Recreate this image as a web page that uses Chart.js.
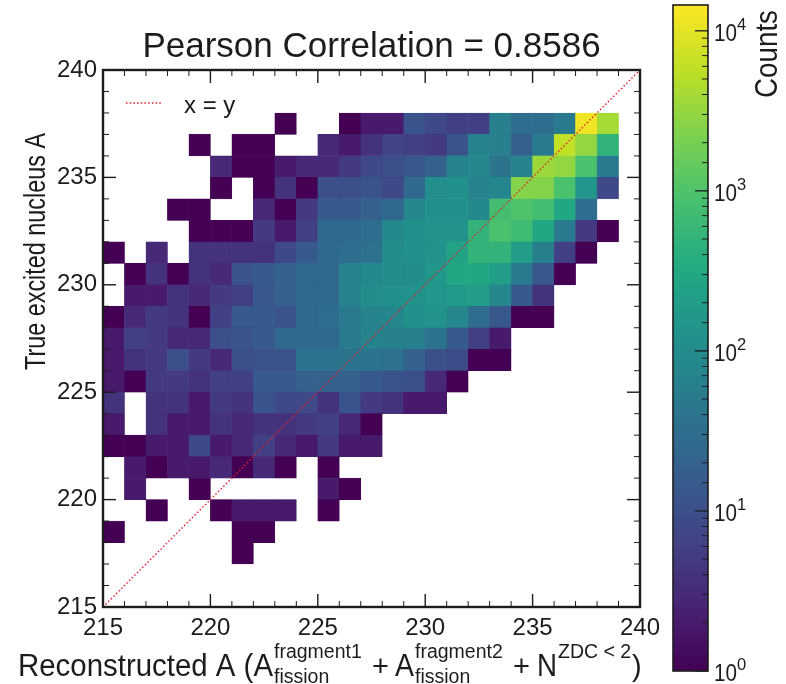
<!DOCTYPE html>
<html>
<head>
<meta charset="utf-8">
<title>Pearson Correlation</title>
<script src="https://cdn.jsdelivr.net/npm/chart.js@4"></script>
<style>
  html, body { margin: 0; padding: 0; background: #fff; }
  #wrap { position: relative; width: 786px; height: 684px; overflow: hidden; }
  #mainBox { position: absolute; left: 0; top: 0; width: 786px; height: 684px; }
  #barBox { position: absolute; left: 640px; top: 0; width: 146px; height: 684px; }
</style>
</head>
<body>
<div id="wrap">
  <div id="mainBox"><canvas id="heat"></canvas></div>
  <div id="barBox"><canvas id="cbar"></canvas></div>
</div>
<script>
// Data

const titleText = 'Pearson Correlation = 0.8586';
const yTitleText = 'True excited nucleus A';
const legendText = 'x = y';
const cbarTitle = 'Counts';

const axisMin = 215;
const axisMax = 240;
const countMax = 14500;
const diagonal = [215, 240];

// left edge of each column
const xBins = [215,216,217,218,219,220,221,222,223,224,225,226,227,228,229,230,231,232,233,234,235,236,237,238];

// counts, 0 = empty cell
const row237 = [0,0,0,0,0,0,0,0,1,0,0,1,2,2,12,8,6,6,60,30,30,50,12000,4000];
const row236 = [0,0,0,0,1,0,1,1,0,0,3,2,4,7,6,5,12,70,60,18,50,6000,3000,500];
const row235 = [0,0,0,0,0,3,1,1,2,3,3,5,8,10,14,20,70,80,40,70,3500,3000,900,50];
const row234 = [0,0,0,0,0,1,0,1,4,1,10,10,12,8,25,110,120,70,80,2500,2500,900,150,8];
const row233 = [0,0,0,1,1,0,0,3,1,5,15,15,20,25,80,120,120,90,800,1000,800,300,30,0];
const row232 = [0,0,0,0,1,1,1,5,2,6,25,25,30,90,120,130,130,500,900,700,300,50,5,1];
const row231 = [1,0,3,0,4,4,4,4,8,15,25,30,35,100,120,130,250,500,500,200,60,6,1,0];
const row230 = [0,1,4,1,4,3,12,15,20,25,25,70,90,100,100,150,300,300,200,50,14,1,0,0];
const row229 = [0,2,2,4,3,5,6,14,20,25,25,70,100,120,130,150,180,200,80,15,4,0,0,0];
const row228 = [1,3,5,4,1,6,15,15,12,25,30,50,70,80,120,130,80,30,14,1,1,0,0,0];
const row227 = [2,6,5,3,3,10,12,15,25,25,25,50,70,60,60,40,15,6,2,0,0,0,0,0];
const row226 = [2,4,5,10,5,3,10,12,12,40,40,40,40,35,20,10,9,1,1,0,0,0,0,0];
const row225 = [2,1,5,5,4,6,6,15,15,20,20,20,15,12,10,3,1,0,0,0,0,0,0,0];
const row224 = [4,0,4,4,2,5,4,12,8,8,4,12,5,4,2,2,0,0,0,0,0,0,0,0];
const row223 = [2,0,4,2,2,4,3,4,4,5,6,3,1,0,0,0,0,0,0,0,0,0,0,0];
const row222 = [1,1,2,2,8,2,3,6,3,2,5,2,2,0,0,0,0,0,0,0,0,0,0,0];
const row221 = [0,2,1,2,2,3,1,3,1,0,1,0,0,0,0,0,0,0,0,0,0,0,0,0];
const row220 = [0,2,0,0,1,0,0,0,0,0,2,1,0,0,0,0,0,0,0,0,0,0,0,0];
const row219 = [0,0,1,0,0,1,2,2,2,0,1,0,0,0,0,0,0,0,0,0,0,0,0,0];
const row218 = [1,0,0,0,0,0,1,1,0,0,0,0,0,0,0,0,0,0,0,0,0,0,0,0];
const row217 = [0,0,0,0,0,0,1,0,0,0,0,0,0,0,0,0,0,0,0,0,0,0,0,0];

const yBins = [237,236,235,234,233,232,231,230,229,228,227,226,225,224,223,222,221,220,219,218,217];
const rows = [row237,row236,row235,row234,row233,row232,row231,row230,row229,row228,row227,
              row226,row225,row224,row223,row222,row221,row220,row219,row218,row217];

const viridis = ['#440154','#482475','#414487','#355f8d','#2a788e','#21918c','#22a884','#44bf70','#7ad151','#bddf26','#fde725'];

// Helpers

const FONT = '"Liberation Sans", Arial, sans-serif';
const INK = '#1c1c1c';

function hexToRgb(h) {
  return [1, 3, 5].map(i => parseInt(h.slice(i, i + 2), 16));
}

function colorFor(count) {
  const t = Math.min(1, Math.log10(count) / Math.log10(countMax)) * (viridis.length - 1);
  const i = Math.min(viridis.length - 2, Math.floor(t));
  const a = hexToRgb(viridis[i]);
  const b = hexToRgb(viridis[i + 1]);
  const f = t - i;
  return `rgb(${a.map((v, k) => Math.round(v + (b[k] - v) * f)).join(',')})`;
}

// fit squeezes the glyphs to a width, the reference text is a bit condensed
function text(ctx, str, x, y, size, fit, align) {
  ctx.font = `${size}px ${FONT}`;
  ctx.fillStyle = INK;
  ctx.textAlign = align || 'left';
  ctx.textBaseline = 'alphabetic';
  if (fit) ctx.fillText(str, x, y, fit);
  else ctx.fillText(str, x, y);
}

// Heatmap cells

const cells = [];
const cellColors = [];
yBins.forEach((y, r) => {
  rows[r].forEach((count, c) => {
    if (count > 0) {
      cells.push({ x: xBins[c] + 0.5, y: [y, y + 1] });
      cellColors.push(colorFor(count));
    }
  });
});

// Plugins

const frameAndTicks = {
  id: 'frameAndTicks',
  afterDraw(chart) {
    const { ctx, chartArea: a, scales: { x, y } } = chart;
    ctx.save();
    ctx.strokeStyle = INK;
    const line = (x1, y1, x2, y2, w) => {
      ctx.lineWidth = w;
      ctx.beginPath();
      ctx.moveTo(x1, y1);
      ctx.lineTo(x2, y2);
      ctx.stroke();
    };
    x.ticks.forEach(t => {
      const major = t.value % 5 === 0;
      const p = x.getPixelForValue(t.value);
      const len = major ? 13 : 6;
      line(p, a.bottom, p, a.bottom - len, major ? 1.4 : 1);
      line(p, a.top, p, a.top + len, major ? 1.4 : 1);
    });
    y.ticks.forEach(t => {
      const major = t.value % 5 === 0;
      const p = y.getPixelForValue(t.value);
      const len = major ? 13 : 6;
      line(a.left, p, a.left + len, p, major ? 1.4 : 1);
      line(a.right, p, a.right - len, p, major ? 1.4 : 1);
    });
    ctx.lineWidth = 2.4;
    ctx.strokeRect(a.left, a.top, a.right - a.left, a.bottom - a.top);

    // legend
    ctx.strokeStyle = '#e0202c';
    ctx.lineWidth = 1.4;
    ctx.setLineDash([1.5, 2.2]);
    ctx.beginPath();
    ctx.moveTo(126, 103);
    ctx.lineTo(163, 103);
    ctx.stroke();
    ctx.setLineDash([]);
    text(ctx, legendText, 184, 113, 24);

    // x axis title with the stacked indices
    text(ctx, 'Reconstructed A (A', 18, 676, 31, 255);
    text(ctx, 'fragment1', 274, 658, 19.5, 88);
    text(ctx, 'fission', 274, 683, 19.5, 57);
    text(ctx, '+', 372, 676, 29);
    text(ctx, 'A', 395, 676, 31, 19);
    text(ctx, 'fragment2', 415, 658, 19.5, 92);
    text(ctx, 'fission', 415, 683, 19.5, 57);
    text(ctx, '+', 513, 676, 29);
    text(ctx, 'N', 537, 676, 31, 20);
    text(ctx, 'ZDC < 2', 558, 658, 19.5, 74);
    text(ctx, ')', 632, 676, 29);

    // y axis title sits above the axis middle in the reference
    ctx.translate(45, 370);
    ctx.rotate(-Math.PI / 2);
    text(ctx, yTitleText, 0, 0, 30, 237);
    ctx.restore();
  }
};

const cbarDecor = {
  id: 'cbarDecor',
  afterDraw(chart) {
    const { ctx, chartArea: a, scales: { y } } = chart;
    ctx.save();
    ctx.strokeStyle = INK;
    y.ticks.forEach(t => {
      if (t.value >= countMax) return;
      const exp = Math.floor(Math.log10(t.value) + 1e-9);
      const major = Math.abs(t.value - Math.pow(10, exp)) < 1e-6;
      const p = y.getPixelForValue(t.value);
      ctx.lineWidth = major ? 1.3 : 1;
      ctx.beginPath();
      ctx.moveTo(a.right, p);
      ctx.lineTo(a.right - (major ? 13 : 6), p);
      ctx.stroke();
      if (major) {
        text(ctx, '10', a.right + 6, p + 10, 24, 23);
        text(ctx, String(exp), a.right + 29, p - 1, 16.5);
      }
    });
    ctx.lineWidth = 1.6;
    ctx.strokeRect(a.left, a.top, a.right - a.left, a.bottom - a.top);

    ctx.translate(137, 10);
    ctx.rotate(-Math.PI / 2);
    text(ctx, cbarTitle, 0, 0, 31, 88, 'right');
    ctx.restore();
  }
};

// Main chart

new Chart(document.getElementById('heat'), {
  type: 'bar',
  data: {
    datasets: [
      {
        type: 'line',
        order: 0,
        data: diagonal.map(v => ({ x: v, y: v })),
        borderColor: '#e0202c',
        borderWidth: 1.4,
        borderDash: [1.5, 2.2],
        pointRadius: 0,
        fill: false
      },
      {
        type: 'bar',
        order: 1,
        data: cells,
        backgroundColor: cellColors,
        borderColor: cellColors,
        borderWidth: 0.4,
        borderSkipped: false,
        barPercentage: 1,
        categoryPercentage: 1,
        grouped: false
      }
    ]
  },
  options: {
    responsive: true,
    maintainAspectRatio: false,
    animation: false,
    layout: { padding: { left: 20, right: 146, top: 26, bottom: 0 } },
    plugins: {
      legend: { display: false },
      tooltip: { enabled: false },
      title: {
        display: true,
        text: titleText,
        fullSize: false,
        color: INK,
        font: { family: FONT, size: 35, weight: 'normal' },
        padding: { top: 0, bottom: 2 }
      }
    },
    scales: {
      x: {
        type: 'linear',
        min: axisMin,
        max: axisMax,
        offset: false,
        grid: { display: false, drawTicks: false },
        border: { display: false },
        afterFit: s => { s.height = 77; },
        ticks: {
          stepSize: 1,
          autoSkip: false,
          maxRotation: 0,
          padding: 7,
          color: INK,
          font: { family: FONT, size: 24 },
          callback: v => (v % 5 === 0 ? String(v) : '')
        }
      },
      y: {
        type: 'linear',
        min: axisMin,
        max: axisMax,
        grid: { display: false, drawTicks: false },
        border: { display: false },
        afterFit: s => { s.width = 83; },
        ticks: {
          stepSize: 1,
          autoSkip: false,
          padding: 6,
          color: INK,
          font: { family: FONT, size: 24 },
          callback: v => (v % 5 === 0 ? String(v) : '')
        }
      }
    }
  },
  plugins: [frameAndTicks]
});

// Colour bar

new Chart(document.getElementById('cbar'), {
  type: 'bar',
  data: {
    labels: [cbarTitle],
    datasets: [{
      data: [[1, countMax]],
      barPercentage: 1,
      categoryPercentage: 1,
      backgroundColor: ctx => {
        const a = ctx.chart.chartArea;
        if (!a) return viridis[0];
        const g = ctx.chart.ctx.createLinearGradient(0, a.bottom, 0, a.top);
        viridis.forEach((c, i) => g.addColorStop(i / (viridis.length - 1), c));
        return g;
      }
    }]
  },
  options: {
    responsive: true,
    maintainAspectRatio: false,
    animation: false,
    layout: { padding: { left: 33, right: 78, top: 5, bottom: 13 } },
    plugins: { legend: { display: false }, tooltip: { enabled: false } },
    scales: {
      x: { display: false },
      y: {
        type: 'logarithmic',
        min: 1,
        max: countMax,
        position: 'right',
        grid: { display: false, drawTicks: false },
        border: { display: false },
        afterFit: s => { s.width = 0; },
        ticks: { display: false, autoSkip: false }
      }
    }
  },
  plugins: [cbarDecor]
});
</script>
</body>
</html>
